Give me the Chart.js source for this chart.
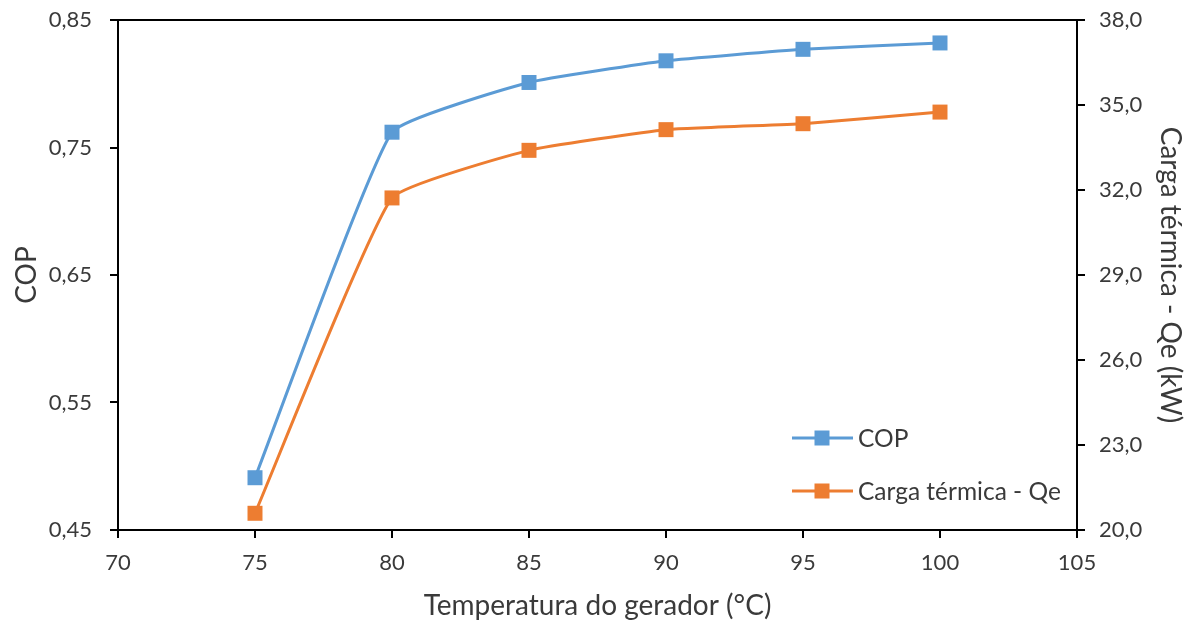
<!DOCTYPE html>
<html>
<head>
<meta charset="utf-8">
<script src="https://cdn.jsdelivr.net/npm/chart.js@4"></script>
<style>
  html, body { margin: 0; padding: 0; background: #fff; }
  #wrap { width: 1190px; height: 626px; }
</style>
</head>
<body>
<div id="wrap"><canvas id="grafico" width="1190" height="626"></canvas></div>
<script>
const temperaturas = [75, 80, 85, 90, 95, 100];
const cop = [0.491, 0.762, 0.801, 0.818, 0.827, 0.832];
const cargaTermica = [20.59, 31.72, 33.40, 34.13, 34.34, 34.75];

const nomes = ['COP', 'Carga térmica - Qe'];
const cores = ['#5B9BD5', '#ED7D31'];

const fonteTicks = { family: 'Lato', size: 22 };
const fonteTitulo = { family: 'Lato', size: 28 };
const corTexto = '#3a3a3a';

const virgula = (v, d) => v.toFixed(d).replace('.', ',');

// legenda dentro da área do gráfico, canto inferior direito
const legendaInterna = {
    id: 'legendaInterna',
    afterDraw(chart) {
        const ctx = chart.ctx;
        const area = chart.chartArea;
        // borda superior da área
        ctx.save();
        ctx.strokeStyle = '#000';
        ctx.lineWidth = 2;
        ctx.beginPath();
        ctx.moveTo(area.left, area.top);
        ctx.lineTo(area.right, area.top);
        ctx.stroke();

        const linhas = [438, 491];
        chart.data.datasets.forEach((ds, i) => {
            const y = linhas[i];
            ctx.strokeStyle = ds.borderColor;
            ctx.lineWidth = 3;
            ctx.beginPath();
            ctx.moveTo(792, y);
            ctx.lineTo(853, y);
            ctx.stroke();
            ctx.fillStyle = ds.backgroundColor;
            ctx.fillRect(822 - 7.5, y - 7.5, 15, 15);
            ctx.fillStyle = corTexto;
            ctx.font = '24.5px Lato';
            ctx.textBaseline = 'middle';
            ctx.fillText(ds.label, 858, y + 1);
        });
        ctx.restore();
    }
};

const serie = (label, valores, eixo, cor) => ({
    label: label,
    data: temperaturas.map((t, i) => ({ x: t, y: valores[i] })),
    yAxisID: eixo,
    borderColor: cor,
    backgroundColor: cor,
    borderWidth: 3,
    pointStyle: 'rect',
    pointRadius: 10.6,
    pointHoverRadius: 10.6,
    pointBorderWidth: 0,
    tension: 0.12
});

const eixoGrid = {
    display: true,
    drawOnChartArea: false,
    drawTicks: true,
    tickLength: 8,
    color: '#000',
    lineWidth: 2
};

const grafico = new Chart(document.getElementById('grafico'), {
    type: 'line',
    data: {
        datasets: [
            serie(nomes[0], cop, 'y', cores[0]),
            serie(nomes[1], cargaTermica, 'y2', cores[1])
        ]
    },
    options: {
        responsive: false,
        animation: false,
        layout: { padding: { top: 20, left: 0, right: 0, bottom: 0 } },
        plugins: {
            legend: { display: false },
            tooltip: { enabled: false }
        },
        scales: {
            x: {
                type: 'linear',
                min: 70,
                max: 105,
                ticks: { stepSize: 5, font: fonteTicks, color: corTexto, padding: 12 },
                grid: eixoGrid,
                border: { display: true, color: '#000', width: 2 },
                title: {
                    display: true,
                    text: 'Temperatura do gerador (°C)',
                    font: fonteTitulo,
                    color: corTexto,
                    padding: { top: 0, bottom: 3 },
                    align: 'center'
                },
                afterFit: s => { s.height = 96; s.paddingLeft = 0; s.paddingRight = 0; }
            },
            y: {
                position: 'left',
                min: 0.45,
                max: 0.85,
                ticks: {
                    stepSize: 0.1,
                    font: fonteTicks,
                    color: corTexto,
                    padding: 18,
                    callback: v => virgula(v, 2)
                },
                grid: eixoGrid,
                border: { display: true, color: '#000', width: 2 },
                title: {
                    display: true,
                    text: 'COP',
                    font: fonteTitulo,
                    color: corTexto,
                    padding: { top: 10, bottom: 0 }
                },
                afterFit: s => { s.width = 118; s.paddingTop = 0; s.paddingBottom = 0; }
            },
            y2: {
                position: 'right',
                min: 20,
                max: 38,
                ticks: {
                    stepSize: 3,
                    font: fonteTicks,
                    color: corTexto,
                    padding: 14,
                    callback: v => virgula(v, 1)
                },
                grid: eixoGrid,
                border: { display: true, color: '#000', width: 2 },
                title: {
                    display: true,
                    text: 'Carga térmica - Qe (kW)',
                    font: fonteTitulo,
                    color: corTexto,
                    padding: { top: 3, bottom: 0 }
                },
                afterFit: s => { s.width = 113; s.paddingTop = 0; s.paddingBottom = 0; }
            }
        }
    },
    plugins: [legendaInterna]
});
</script>
</body>
</html>
